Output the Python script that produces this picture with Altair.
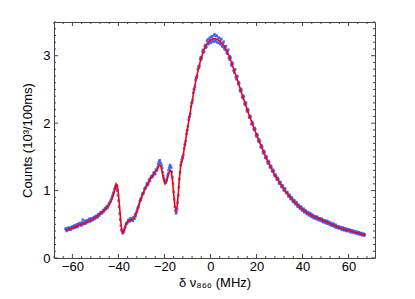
import altair as alt
import pandas as pd

# ---- data ----
fit_x = [-63, -60, -57, -54, -51, -48, -46, -44, -43, -42.5, -42, -41.5, -41, -40.5, -40, -39.5, -39, -38.5,
         -38, -37.5, -37, -36, -35, -34, -33, -32, -31, -30, -29, -28, -27, -26, -25, -24, -23, -22.3,
         -21.5, -21, -20.3, -19.7, -19, -18.3, -17.5, -17, -16.5, -16, -15.5, -15, -14.5, -14, -13.5,
         -13, -12, -11, -10, -9, -8, -7, -6, -5, -4, -3, -2, -1, 0, 1, 2, 3, 4, 5, 6, 7, 8, 9, 10,
         11, 12, 13, 14, 15, 16, 17, 18, 19, 20, 22, 24, 26, 28, 30, 32, 34, 36, 38, 40, 42, 44, 46,
         48, 50, 52, 54, 56, 58, 60, 62, 64, 66, 67.5]
fit_y = [0.41, 0.45, 0.49, 0.53, 0.58, 0.65, 0.71, 0.79, 0.86, 0.90, 0.96, 1.02, 1.10, 1.08, 0.95, 0.75, 0.55, 0.41,
         0.38, 0.42, 0.48, 0.54, 0.56, 0.57, 0.60, 0.68, 0.80, 0.90, 0.98, 1.06, 1.12, 1.18, 1.23, 1.27, 1.32, 1.38,
         1.36, 1.28, 1.16, 1.10, 1.14, 1.24, 1.30, 1.28, 1.15, 0.95, 0.78, 0.71, 0.76, 0.95, 1.18,
         1.35, 1.50, 1.70, 1.92, 2.12, 2.32, 2.52, 2.69, 2.84, 2.97, 3.07, 3.15, 3.20, 3.23, 3.25, 3.25, 3.24, 3.22, 3.18, 3.14, 3.08, 3.00, 2.91, 2.81,
         2.71, 2.61, 2.50, 2.40, 2.30, 2.20, 2.10, 2.01, 1.92, 1.83, 1.66, 1.50, 1.36, 1.23, 1.12, 1.02, 0.93, 0.85, 0.78, 0.72, 0.67, 0.63, 0.60,
         0.57, 0.54, 0.51, 0.48, 0.45, 0.43, 0.41, 0.39, 0.37, 0.35, 0.34]

# measured counts, sampled every 0.5 MHz starting at -63
meas_a_start = -63.0
meas_a_y = [
    0.43, 0.40, 0.44, 0.42, 0.45, 0.43, 0.47, 0.44, 0.48, 0.46,
    0.50, 0.47, 0.51, 0.52, 0.49, 0.57, 0.51, 0.55, 0.52, 0.54,
    0.56, 0.58, 0.55, 0.59, 0.57, 0.61, 0.59, 0.63, 0.61, 0.65,
    0.66, 0.68, 0.67, 0.71, 0.73, 0.72, 0.77, 0.76, 0.81, 0.83,
    0.88, 0.93, 0.98, 1.04, 1.06, 1.00, 0.85, 0.66, 0.48, 0.40,
    0.37, 0.40, 0.46, 0.52, 0.53, 0.57, 0.55, 0.58, 0.56, 0.60,
    0.58, 0.62, 0.70, 0.76, 0.79, 0.87, 0.89, 0.96, 0.97, 1.04,
    1.05, 1.11, 1.10, 1.17, 1.19, 1.22, 1.21, 1.27, 1.25, 1.31,
    1.35, 1.42, 1.45, 1.40, 1.33, 1.22, 1.14, 1.12, 1.17, 1.25,
    1.33, 1.38, 1.34, 1.20, 0.98, 0.76, 0.66, 0.72, 0.93, 1.17,
    1.38, 1.46, 1.48, 1.63, 1.68, 1.84, 1.90, 2.05, 2.10, 2.25,
    2.30, 2.45, 2.50, 2.64, 2.67, 2.80, 2.82, 2.95, 2.94, 3.06,
    3.05, 3.14, 3.12, 3.22, 3.17, 3.25, 3.20, 3.28, 3.22, 3.30,
    3.21, 3.29, 3.20, 3.26, 3.19, 3.24, 3.15, 3.19, 3.11, 3.14,
    3.05, 3.07, 2.97, 2.99, 2.87, 2.90, 2.78, 2.80, 2.68, 2.70,
    2.58, 2.59, 2.47, 2.49, 2.37, 2.39, 2.27, 2.29, 2.17, 2.19,
    2.08, 2.09, 1.98, 1.99, 1.90, 1.91, 1.80, 1.82, 1.72, 1.73,
    1.64, 1.65, 1.55, 1.57, 1.48, 1.49, 1.40, 1.42, 1.34, 1.35,
    1.28, 1.29, 1.21, 1.22, 1.16, 1.17, 1.10, 1.12, 1.05, 1.07,
    1.00, 1.03, 0.96, 0.97, 0.91, 0.93, 0.87, 0.89, 0.83, 0.85,
    0.80, 0.82, 0.76, 0.78, 0.73, 0.76, 0.70, 0.73, 0.68, 0.70,
    0.65, 0.68, 0.63, 0.66, 0.61, 0.64, 0.59, 0.62, 0.58, 0.61,
    0.56, 0.59, 0.55, 0.58, 0.53, 0.56, 0.52, 0.55, 0.51, 0.53,
    0.49, 0.52, 0.48, 0.51, 0.46, 0.49, 0.45, 0.47, 0.44, 0.46,
    0.42, 0.45, 0.41, 0.44, 0.40, 0.43, 0.40, 0.42, 0.38, 0.41,
    0.38, 0.40, 0.37, 0.39, 0.36, 0.38, 0.35, 0.37, 0.34, 0.36, 0.35,
]
# measured counts, interleaved samples every 0.5 MHz starting at -62.75
meas_b_start = -62.75
meas_b_y = [
    0.44, 0.41, 0.45, 0.44, 0.42, 0.46, 0.45, 0.48, 0.45, 0.49,
    0.46, 0.51, 0.50, 0.48, 0.53, 0.50, 0.54, 0.51, 0.56, 0.53,
    0.58, 0.54, 0.59, 0.56, 0.60, 0.58, 0.62, 0.60, 0.65, 0.63,
    0.68, 0.66, 0.70, 0.69, 0.74, 0.75, 0.74, 0.80, 0.83, 0.86,
    0.91, 0.96, 1.02, 1.07, 1.03, 0.93, 0.76, 0.57, 0.42, 0.37,
    0.39, 0.44, 0.50, 0.51, 0.56, 0.54, 0.59, 0.57, 0.55, 0.61,
    0.65, 0.67, 0.73, 0.75, 0.84, 0.86, 0.94, 0.95, 1.02, 1.03,
    1.09, 1.08, 1.15, 1.14, 1.21, 1.20, 1.26, 1.24, 1.31, 1.30,
    1.39, 1.44, 1.41, 1.37, 1.27, 1.18, 1.12, 1.15, 1.21, 1.30,
    1.36, 1.35, 1.28, 1.10, 0.87, 0.70, 0.68, 0.82, 1.05, 1.27,
    1.42, 1.50, 1.53, 1.68, 1.73, 1.89, 1.95, 2.09, 2.14, 2.30,
    2.34, 2.50, 2.54, 2.68, 2.70, 2.84, 2.85, 2.98, 2.97, 3.09,
    3.06, 3.16, 3.13, 3.24, 3.18, 3.27, 3.19, 3.29, 3.21, 3.32,
    3.22, 3.30, 3.19, 3.27, 3.17, 3.25, 3.13, 3.21, 3.09, 3.14,
    3.03, 3.09, 2.94, 2.97, 2.85, 2.88, 2.75, 2.79, 2.65, 2.69,
    2.61, 2.49, 2.51, 2.39, 2.41, 2.29, 2.31, 2.19, 2.21, 2.09,
    2.11, 1.99, 2.02, 1.91, 1.93, 1.82, 1.84, 1.74, 1.76, 1.65,
    1.67, 1.57, 1.59, 1.49, 1.51, 1.42, 1.44, 1.35, 1.37, 1.29,
    1.31, 1.23, 1.24, 1.17, 1.19, 1.11, 1.13, 1.06, 1.08, 1.01,
    1.03, 0.97, 0.98, 0.92, 0.94, 0.88, 0.90, 0.84, 0.86, 0.80,
    0.83, 0.77, 0.79, 0.74, 0.76, 0.71, 0.73, 0.68, 0.71, 0.66,
    0.68, 0.64, 0.66, 0.62, 0.64, 0.60, 0.62, 0.58, 0.61, 0.57,
    0.59, 0.56, 0.58, 0.54, 0.56, 0.53, 0.55, 0.51, 0.54, 0.50,
    0.52, 0.48, 0.50, 0.47, 0.49, 0.45, 0.47, 0.44, 0.46, 0.43,
    0.45, 0.42, 0.44, 0.41, 0.43, 0.40, 0.42, 0.39, 0.41, 0.38,
    0.40, 0.37, 0.39, 0.36, 0.38, 0.35, 0.37, 0.34, 0.36, 0.33,
]
meas_step = 0.5

x_major = [-60, -40, -20, 0, 20, 40, 60]
x_minor = [v for v in range(-68, 72, 4) if v not in x_major]
y_major = [0, 1, 2, 3]
y_minor = [round(i * 0.1, 1) for i in range(0, 36) if i % 10 != 0]

X_DOMAIN = [-68, 71.5]
Y_DOMAIN = [0, 3.5]
W, H = 321, 236
FONT = "Liberation Sans"

xs = alt.Scale(domain=X_DOMAIN, nice=False, zero=False)
ys = alt.Scale(domain=Y_DOMAIN, nice=False, zero=False)

meas_x = ([meas_a_start + i * meas_step for i in range(len(meas_a_y))]
          + [meas_b_start + i * meas_step for i in range(len(meas_b_y))])
meas = pd.DataFrame({"x": meas_x, "y": meas_a_y + meas_b_y})
fit = pd.DataFrame({"x": fit_x, "y": fit_y})

points = alt.Chart(meas).mark_square(size=6, color="#3a5cff", opacity=0.9).encode(
    x=alt.X("x:Q", scale=xs,
            axis=alt.Axis(values=x_major, ticks=False, domain=False, grid=False,
                          labelFont=FONT, labelFontSize=13, labelColor="#000", labelPadding=2,
                          title="δ ν₈₆₆ (MHz)", titleFont=FONT, titleFontSize=13,
                          titleFontWeight="normal", titleColor="#000", titlePadding=3)),
    y=alt.Y("y:Q", scale=ys,
            axis=alt.Axis(values=y_major, format="d", ticks=False, domain=False, grid=False,
                          labelFont=FONT, labelFontSize=13, labelColor="#000", labelPadding=4,
                          title="Counts (10³/100ms)", titleFont=FONT, titleFontSize=13,
                          titleFontWeight="normal", titleColor="#000", titlePadding=8)),
)

line = alt.Chart(fit).mark_line(color="#ff0000", strokeWidth=1.6).encode(
    x=alt.X("x:Q", scale=xs), y=alt.Y("y:Q", scale=ys))

layers = [points, line]
TICK_COLOR = "#444"
for vals, ln in ((x_major, 4), (x_minor, 2)):
    df = pd.DataFrame({"x": vals})
    layers.append(alt.Chart(df).mark_rule(color=TICK_COLOR, strokeWidth=1).encode(
        x=alt.X("x:Q", scale=xs), y=alt.value(H), y2=alt.value(H - ln)))
    layers.append(alt.Chart(df).mark_rule(color=TICK_COLOR, strokeWidth=1).encode(
        x=alt.X("x:Q", scale=xs), y=alt.value(0), y2=alt.value(ln)))
for vals, ln in ((y_major, 4), (y_minor, 2)):
    df = pd.DataFrame({"y": vals})
    layers.append(alt.Chart(df).mark_rule(color=TICK_COLOR, strokeWidth=1).encode(
        y=alt.Y("y:Q", scale=ys), x=alt.value(0), x2=alt.value(ln)))
    layers.append(alt.Chart(df).mark_rule(color=TICK_COLOR, strokeWidth=1).encode(
        y=alt.Y("y:Q", scale=ys), x=alt.value(W), x2=alt.value(W - ln)))

chart = alt.layer(*layers).properties(
    width=W, height=H,
    padding={"left": 46, "top": 14, "right": 30, "bottom": 33},
    autosize=alt.AutoSizeParams(type="none"),
    background="white",
).configure_view(stroke="#444", strokeWidth=1)

chart.save("out.html", embed_options={"renderer": "svg", "actions": False})
